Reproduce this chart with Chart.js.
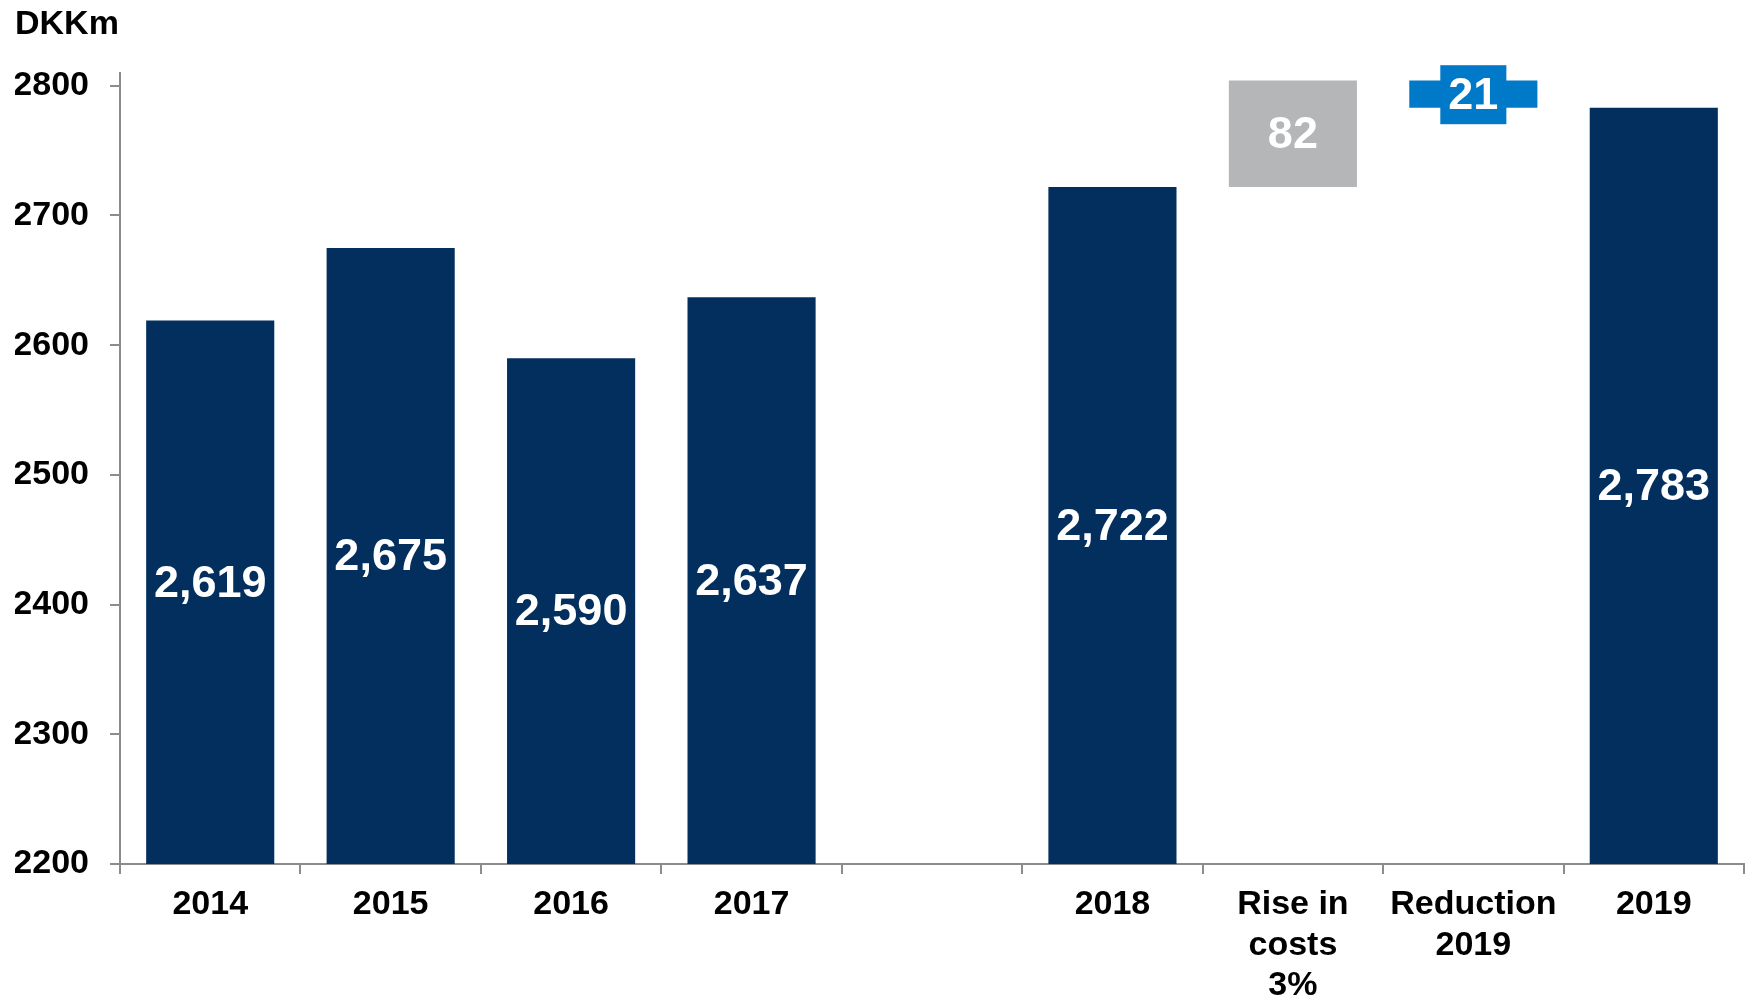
<!DOCTYPE html>
<html>
<head>
<meta charset="utf-8">
<script src="https://cdn.jsdelivr.net/npm/chart.js@4.4.1/dist/chart.umd.min.js"></script>
<style>
  html, body { margin: 0; padding: 0; background: #fff; }
  #wrap { width: 1745px; height: 1002px; }
</style>
</head>
<body>
<div id="wrap"><canvas id="costChart"></canvas></div>
<script>
// categories along the x axis (blank slot between 2017 and 2018)
const categories = ['2014', '2015', '2016', '2017', '', '2018', ['Rise in', 'costs', '3%'], ['Reduction', '2019'], '2019'];
// bar values, floating bars as [from, to]
const costValues = [2619, 2675, 2590, 2637, null, 2722, [2722, 2804], [2783, 2804], 2783];
const valueLabels = ['2,619', '2,675', '2,590', '2,637', '', '2,722', '82', '21', '2,783'];
const barColors = ['#032f5e', '#032f5e', '#032f5e', '#032f5e', '#032f5e', '#032f5e', '#b5b6b8', '#0079c8', '#032f5e'];
const labelBoxed = [false, false, false, false, false, false, false, true, false];
const yTicks = [2200, 2300, 2400, 2500, 2600, 2700, 2800];

const FONT = "'Liberation Sans', Arial, sans-serif";
// small vertical nudges for the value labels (px)
const labelNudge = [-10, 0, 0, 0, 0, 0, 0, 0, 0];

// draws the white value labels centred in the visible part of each bar
const barLabels = {
  id: 'barLabels',
  afterDatasetsDraw(chart) {
    const ctx = chart.ctx;
    const area = chart.chartArea;
    const meta = chart.getDatasetMeta(0);
    ctx.save();
    ctx.font = 'bold 45px ' + FONT;
    ctx.textAlign = 'center';
    ctx.textBaseline = 'middle';
    meta.data.forEach((bar, i) => {
      const txt = valueLabels[i];
      if (!txt) return;
      const props = bar.getProps(['x', 'y', 'base'], true);
      const top = Math.max(Math.min(props.y, props.base), area.top);
      const bottom = Math.min(Math.max(props.y, props.base), area.bottom);
      const cy = (top + bottom) / 2 + labelNudge[i];
      if (labelBoxed[i]) {
        const w = ctx.measureText(txt).width + 16;
        ctx.fillStyle = barColors[i];
        ctx.fillRect(props.x - w / 2, cy - 29, w, 59);
      }
      ctx.fillStyle = '#ffffff';
      ctx.fillText(txt, props.x, cy + 2);
    });
    ctx.restore();
  }
};

new Chart(document.getElementById('costChart').getContext('2d'), {
  type: 'bar',
  data: {
    labels: categories,
    datasets: [{
      data: costValues,
      backgroundColor: barColors,
      borderWidth: 0,
      barPercentage: 0.71,
      categoryPercentage: 1.0
    }]
  },
  options: {
    responsive: true,
    maintainAspectRatio: false,
    animation: false,
    layout: { padding: { left: 15, right: 1, top: 0, bottom: 0 } },
    plugins: {
      legend: { display: false },
      tooltip: { enabled: false },
      title: {
        display: true,
        text: 'DKKm',
        align: 'start',
        color: '#000',
        font: { family: FONT, size: 34, weight: 'bold' },
        padding: { top: 4, bottom: 28 }
      }
    },
    scales: {
      x: {
        grid: { drawOnChartArea: false, color: '#8c8c8c', lineWidth: 2, tickLength: 10, offset: true },
        border: { color: '#8c8c8c', width: 2 },
        ticks: {
          color: '#000',
          font: { family: FONT, size: 34, weight: 'bold', lineHeight: 1.2 },
          padding: 10,
          maxRotation: 0,
          autoSkip: false
        },
        afterFit: s => { s.height = 138; }
      },
      y: {
        min: 2200,
        max: 2810,
        grid: { drawOnChartArea: false, color: '#8c8c8c', lineWidth: 2, tickLength: 10 },
        border: { color: '#8c8c8c', width: 2 },
        ticks: {
          color: '#000',
          font: { family: FONT, size: 34, weight: 'bold' },
          padding: 21,
          callback: v => String(v)
        },
        afterBuildTicks: s => { s.ticks = yTicks.map(v => ({ value: v })); },
        afterFit: s => { s.width = 105; }
      }
    }
  },
  plugins: [barLabels]
});
</script>
</body>
</html>
